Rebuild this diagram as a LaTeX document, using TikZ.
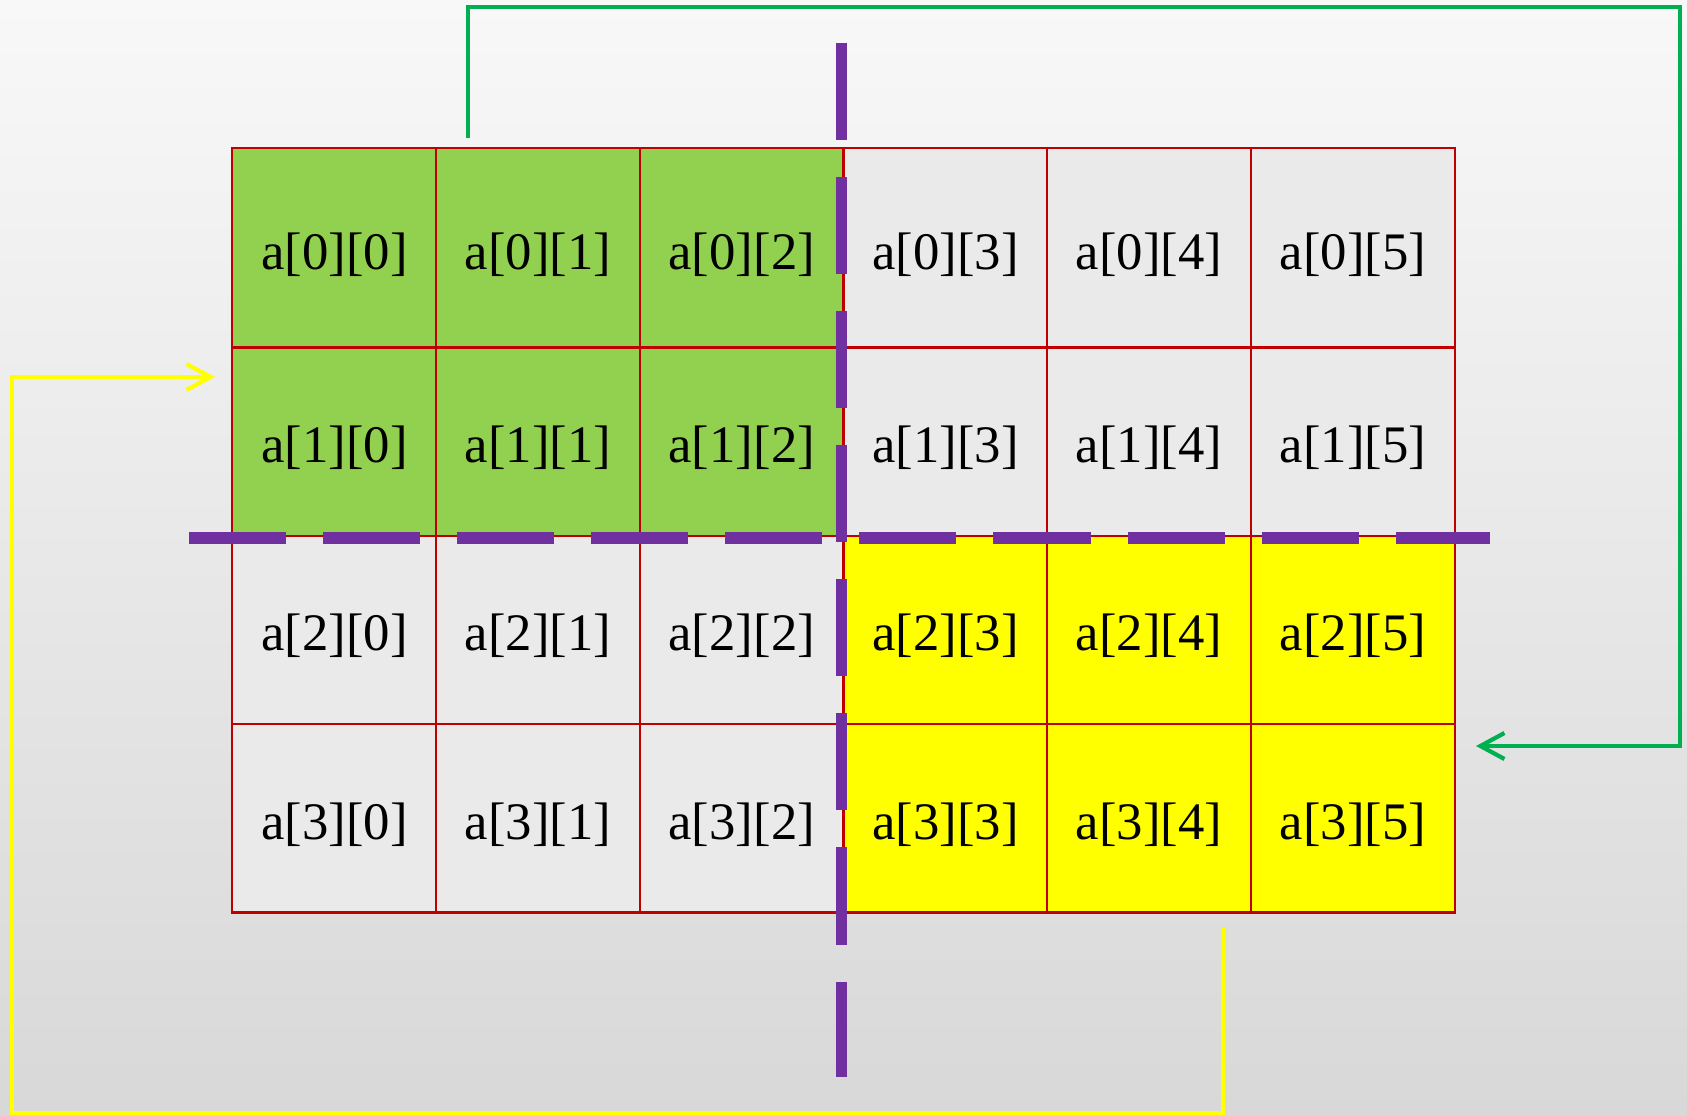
\documentclass[tikz,border=0pt]{standalone}
\usepackage{fontspec}
\setmainfont{Liberation Serif}
\usetikzlibrary{arrows.meta}
\definecolor{cellgreen}{HTML}{92D050}
\definecolor{cellyellow}{HTML}{FFFF00}
\definecolor{cellgray}{HTML}{EAEAEA}
\definecolor{gridred}{HTML}{C00000}
\definecolor{cutpurple}{HTML}{7030A0}
\definecolor{arrowgreen}{HTML}{00B050}
\definecolor{bgtop}{HTML}{F8F8F8}
\definecolor{bgbottom}{HTML}{D8D8D8}
\tikzset{
  cell/.style={draw=gridred, line width=0.6pt, minimum width=2.037cm,
    inner sep=0pt, outer sep=0pt, text height=0.42cm, text depth=0pt,
    font=\fontsize{15}{17}\selectfont},
  cut/.style={cutpurple, line width=3.3pt, dash pattern=on 0.97cm off 0.37cm},
  move/.style={line width=1.2pt, -{Straight Barb[length=0.24cm,width=0.26cm]}}
}

\begin{document}
\begin{tikzpicture}[x=0.01cm,y=-0.01cm]
    \shade[top color=bgtop, bottom color=bgbottom] (0,0) rectangle (1687,1115);

    \foreach \r/\y/\h/\lc/\rc in {
        0/248/1.99/cellgreen/cellgray,
        1/441.65/1.883/cellgreen/cellgray,
        2/629.95/1.883/cellgray/cellyellow,
        3/818.25/1.883/cellgray/cellyellow}{
      \foreach \c in {0,1,2}{
        \node[cell, fill=\lc, minimum height=\h cm] (a\r\c) at ({334.35+203.7*\c},\y) {a[\r][\c]};
      }
      \foreach \c in {3,4,5}{
        \node[cell, fill=\rc, minimum height=\h cm] (a\r\c) at ({334.35+203.7*\c},\y) {a[\r][\c]};
      }
    }

    \draw[cut] (841.5,43) -- (841.5,1077);
    \draw[cut] (189,538) -- (1490,538);

    \coordinate (gfrom) at (468,138);
    \coordinate (gto) at (1476,746);
    \draw[move, arrowgreen] (gfrom) |- (1680,7) |- (gto);

    \coordinate (yfrom) at (1223,928);
    \coordinate (yto) at (215,377);
    \draw[move, cellyellow] (yfrom) |- (12,1113) |- (yto);
  \end{tikzpicture}
\end{document}
